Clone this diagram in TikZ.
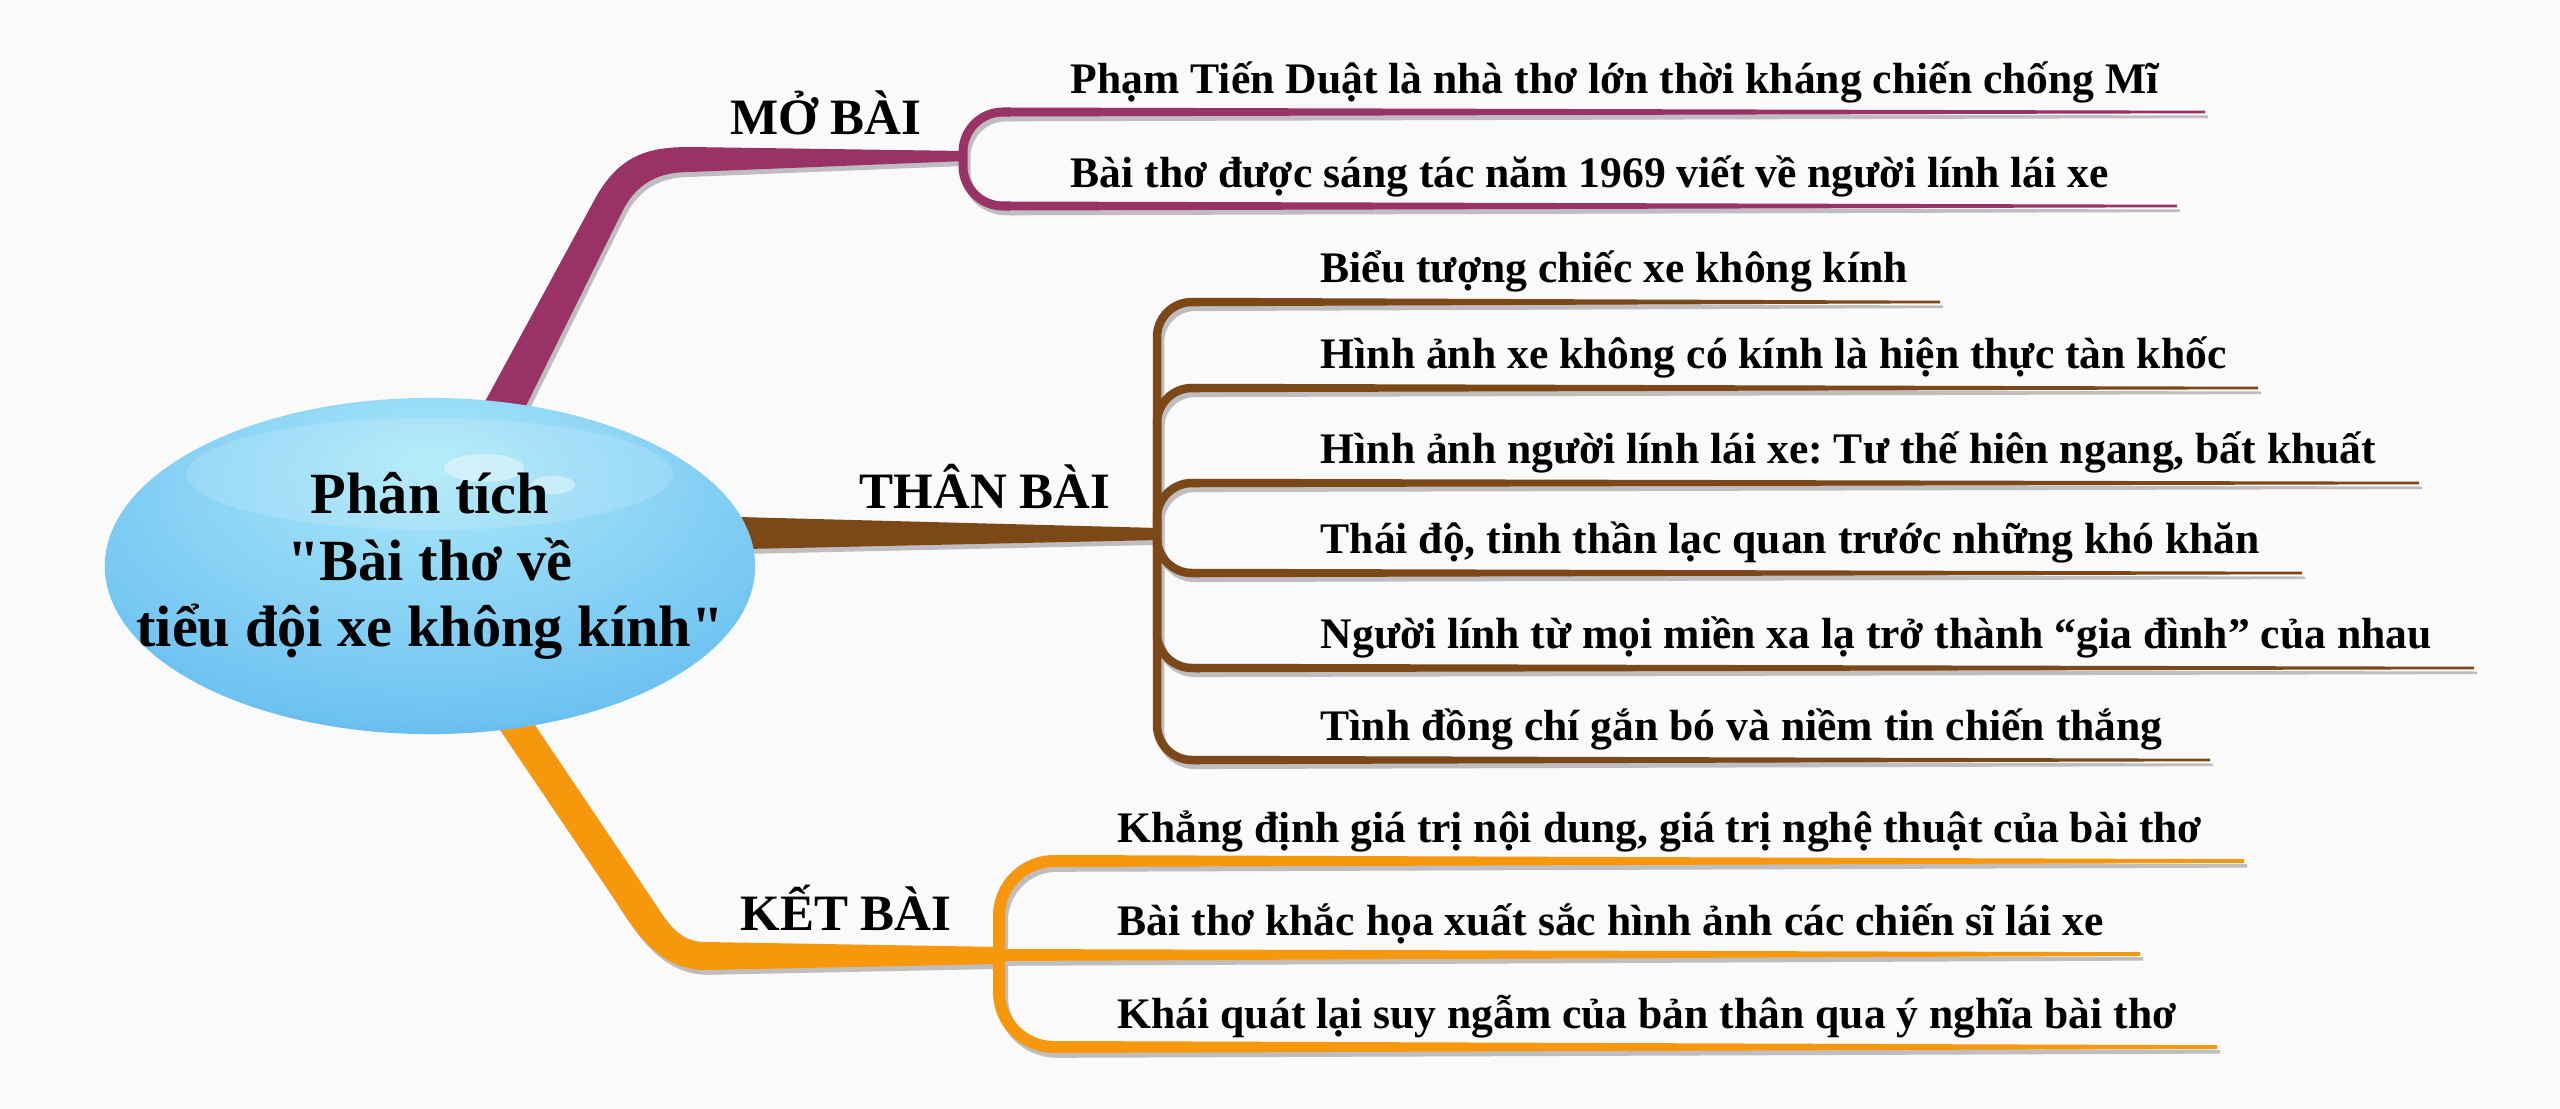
\documentclass[tikz,border=0pt]{standalone}
\usepackage{fontspec}
\setmainfont{Liberation Serif}[Ligatures=TeXOff]
\usetikzlibrary{shapes.geometric,calc}
\frenchspacing

\definecolor{paper}{RGB}{250,250,250}
\definecolor{mopurple}{RGB}{153,51,102}
\definecolor{thanbrown}{RGB}{124,72,24}
\definecolor{ketorange}{RGB}{247,152,12}
\definecolor{shadowgray}{RGB}{190,190,194}
\definecolor{rootlight}{RGB}{172,233,250}
\definecolor{rootmid}{RGB}{110,194,241}
\definecolor{rootdark}{RGB}{60,130,220}

\pgfdeclareradialshading{rootglow}{\pgfpoint{0bp}{16bp}}{%
  color(0bp)=(rootlight); color(18bp)=(rootlight!45!rootmid);
  color(32bp)=(rootmid); color(46bp)=(rootdark); color(70bp)=(rootdark)}

\tikzset{
  leaf/.style={anchor=base west, inner sep=0pt, font=\fontsize{12.4}{14}\selectfont\bfseries},
  heading/.style={anchor=base, inner sep=0pt, font=\fontsize{14.5}{17}\selectfont\bfseries},
  bubble/.style={ellipse, minimum width=6.5cm, minimum height=3.36cm, inner sep=0pt, shade, shading=rootglow},
  title/.style={align=center, inner sep=0pt, font=\fontsize{16.6}{19}\selectfont\bfseries},
}

\begin{document}
\begin{tikzpicture}[x=0.01cm, y=-0.01cm]
        \fill [paper] (0,0) rectangle (2560,1109);
        \useasboundingbox (0,0) rectangle (2560,1109);

        % forks
        \coordinate (mofork) at (963,156);
        \coordinate (bfork) at (1157,534);
        \coordinate (ofork) at (999,955);

        % headings
        \node [heading] (mohead) at (826,134) {MỞ BÀI};
        \node [heading] (bhead) at (985,508) {THÂN BÀI};
        \node [heading] (ohead) at (846,930) {KẾT BÀI};

        % leaves
        \foreach[count=\i] \b/\e/\t in {93/2205/{Phạm Tiến Duật là nhà thơ lớn thời kháng chiến chống Mĩ},
            187/2177/{Bài thơ được sáng tác năm 1969 viết về người lính lái xe}}{
            \node [leaf] (mo\i) at (1070,\b) {\t};
            \coordinate (moe\i) at (\e,\b+19);
        }
        \foreach[count=\i] \b/\e/\t in {282/1940/{Biểu tượng chiếc xe không kính},
            368/2258/{Hình ảnh xe không có kính là hiện thực tàn khốc},
            463/2419/{Hình ảnh người lính lái xe: Tư thế hiên ngang, bất khuất},
            553/2302/{Thái độ, tinh thần lạc quan trước những khó khăn},
            648/2474/{Người lính từ mọi miền xa lạ trở thành “gia đình” của nhau},
            740/2210/{Tình đồng chí gắn bó và niềm tin chiến thắng}}{
            \node [leaf] (b\i) at (1320,\b) {\t};
            \coordinate (be\i) at (\e,\b+20);
        }
        \foreach[count=\i] \b/\e/\t in {842/2244/{Khẳng định giá trị nội dung, giá trị nghệ thuật của bài thơ},
            935/2140/{Bài thơ khắc họa xuất sắc hình ảnh các chiến sĩ lái xe},
            1028/2217/{Khái quát lại suy ngẫm của bản thân qua ý nghĩa bài thơ}}{
            \node [leaf] (o\i) at (1117,\b) {\t};
            \coordinate (oe\i) at (\e,\b+19);
        }

        % branches, first the shadow, then the colour
        \foreach \sh/\cm/\cb/\co in {3/shadowgray/shadowgray/shadowgray,0/mopurple/thanbrown/ketorange}{
        \begin{scope}[transform canvas={shift={(\sh,1.6*\sh)}}]
            \fill [\cm] (475,420) -- (596,197) .. controls (620,155) and (648,147) .. (690,147)
                -- (965,151) -- (965,161) -- (690,172) .. controls (662,172) and (638,180) .. (622,212)
                -- (519,420) -- cycle;
            \fill [\cb] (700,516) -- (1159,528) -- (1159,540) -- (700,550) -- cycle;
            \fill [\co] (480,700) -- (615,900) .. controls (635,932) and (660,970) .. (705,970)
                -- (1001,964) -- (1001,947) -- (705,942) .. controls (682,942) and (670,927) .. (656,905)
                -- (518,700) -- cycle;
            \foreach \i in {1,2}{
                \draw [\cm, line width=0.09cm, rounded corners=0.4cm] (mofork) |- ($(mofork |- moe\i)+(47,0)$);
                \fill [\cm] ($(mofork |- moe\i)+(45,-4.5)$) -- ($(moe\i)+(0,-1.3)$)
                    -- ($(moe\i)+(0,1.3)$) -- ($(mofork |- moe\i)+(45,4.5)$) -- cycle;
            }
            \foreach \i in {1,...,6}{
                \draw [\cb, line width=0.085cm, rounded corners=0.35cm] (bfork) |- ($(bfork |- be\i)+(42,0)$);
                \fill [\cb] ($(bfork |- be\i)+(40,-4.25)$) -- ($(be\i)+(0,-1.3)$)
                    -- ($(be\i)+(0,1.3)$) -- ($(bfork |- be\i)+(40,4.25)$) -- cycle;
            }
            \foreach \i in {1,3}{
                \draw [\co, line width=0.12cm, rounded corners=0.55cm] (ofork) |- ($(ofork |- oe\i)+(60,0)$);
                \fill [\co] ($(ofork |- oe\i)+(58,-6)$) -- ($(oe\i)+(0,-1.8)$)
                    -- ($(oe\i)+(0,1.8)$) -- ($(ofork |- oe\i)+(58,6)$) -- cycle;
            }
            \fill [\co] ($(ofork)+(0,-6)$) -- ($(oe2)+(0,-1.8)$) -- ($(oe2)+(0,1.8)$) -- ($(ofork)+(0,6)$) -- cycle;
        \end{scope}
        }

        % centre
        \node [bubble] (root) at (430,566) {};
        \fill [white, opacity=.14] (430,474) ellipse [x radius=2.43cm, y radius=0.56cm];
        \fill [white, opacity=.4] (484,468) ellipse [x radius=0.4cm, y radius=0.14cm];
        \fill [white, opacity=.4] (553,485) ellipse [x radius=0.22cm, y radius=0.09cm];
        \node [title] (roottitle) at (root.center) {Phân tích\\"Bài thơ về\\tiểu đội xe không kính"};

        \end{tikzpicture}
\end{document}
